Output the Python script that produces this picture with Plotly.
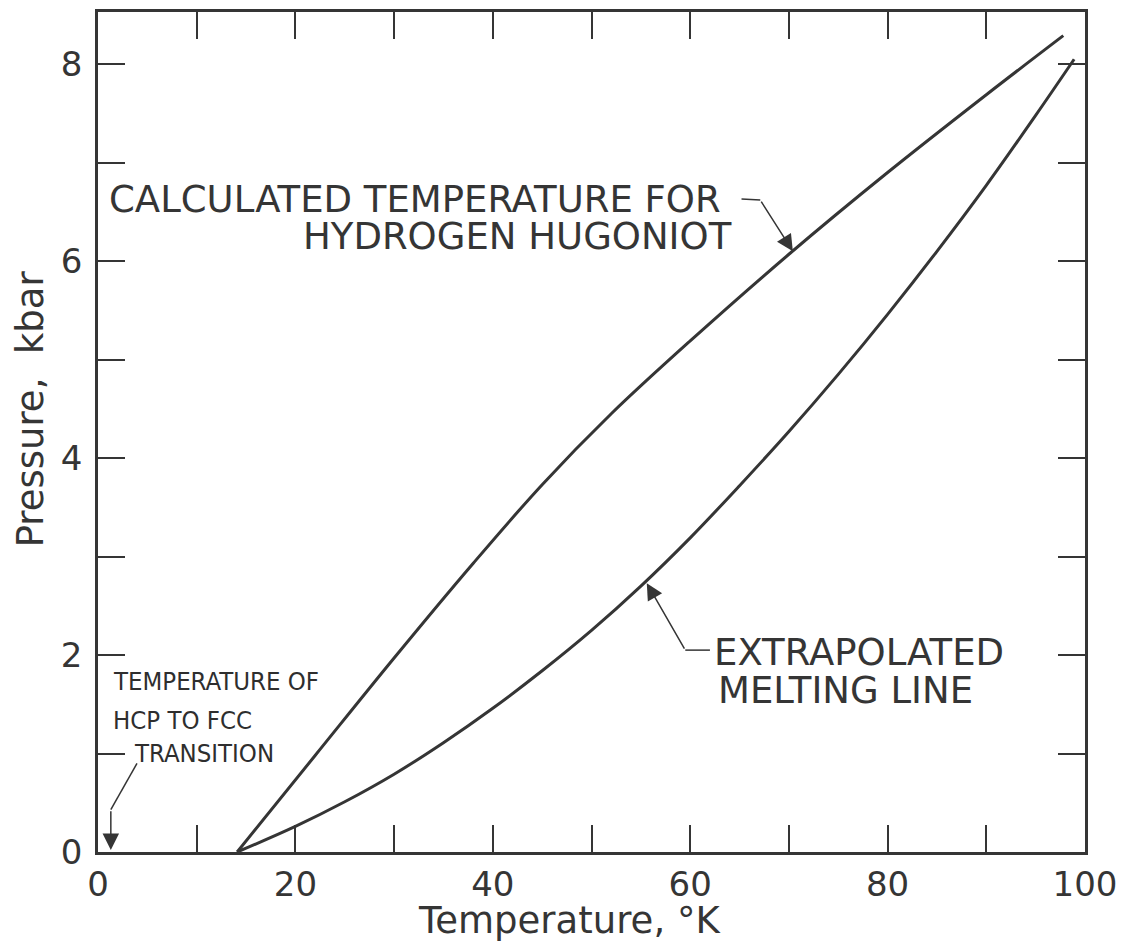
import plotly.graph_objects as go

# ---- data ----
hugoniot_T = [14.1, 22.0, 30.0, 38.0, 45.0, 52.0, 60.0, 70.0, 80.0, 90.0, 97.8]
hugoniot_P = [0.0, 0.98, 1.97, 2.93, 3.73, 4.45, 5.19, 6.07, 6.90, 7.69, 8.29]

melt_T = [14.1, 20.0, 25.0, 30.0, 35.0, 40.0, 45.0, 50.0, 55.0, 60.0, 65.0,
          70.0, 75.0, 80.0, 85.0, 90.0, 95.0, 98.9]
melt_P = [0.0, 0.26, 0.51, 0.79, 1.11, 1.46, 1.84, 2.25, 2.70, 3.19, 3.72,
          4.27, 4.85, 5.46, 6.10, 6.77, 7.48, 8.05]

x_tick_vals = [0, 10, 20, 30, 40, 50, 60, 70, 80, 90, 100]
x_tick_text = ["0", "", "20", "", "40", "", "60", "", "80", "", "100"]
y_tick_vals = [0, 1, 2, 3, 4, 5, 6, 7, 8]
y_tick_text = ["0", "", "2", "", "4", "", "6", "", "8"]

x_title = "Temperature, °K"
y_title = "Pressure,  kbar"

INK = "#353535"
FONT = "DejaVu Sans"
NARROW = "Liberation Sans Narrow, DejaVu Sans Condensed, Roboto Condensed, DejaVu Sans"

fig = go.Figure()
fig.add_trace(go.Scatter(x=hugoniot_T, y=hugoniot_P, mode="lines",
                         line=dict(color=INK, width=3, shape="spline", smoothing=1.0),
                         showlegend=False, hoverinfo="skip"))
fig.add_trace(go.Scatter(x=melt_T, y=melt_P, mode="lines",
                         line=dict(color=INK, width=3, shape="spline", smoothing=1.0),
                         showlegend=False, hoverinfo="skip"))

axis_common = dict(showline=True, linecolor=INK, linewidth=2.5, mirror="ticks",
                   ticks="inside", ticklen=27, tickwidth=2, tickcolor=INK,
                   showgrid=False, zeroline=False,
                   tickfont=dict(family=FONT, size=34, color=INK))

fig.update_xaxes(range=[0, 100], tickmode="array", tickvals=x_tick_vals,
                 ticktext=x_tick_text, ticklabelstandoff=0, **axis_common)
fig.update_yaxes(range=[0, 8.53], tickmode="array", tickvals=y_tick_vals,
                 ticktext=y_tick_text, ticklabelstandoff=6, **axis_common)

ann = []
# axis titles
ann.append(dict(text=x_title, xref="paper", yref="paper", x=0.478, y=-0.081,
                xanchor="center", yanchor="middle", showarrow=False,
                font=dict(family=FONT, size=37, color=INK)))
ann.append(dict(text=y_title, xref="paper", yref="paper", x=-0.068, y=0.528,
                xanchor="center", yanchor="middle", showarrow=False, textangle=-90,
                font=dict(family=FONT, size=37, color=INK)))

big = dict(family=FONT, size=37, color=INK)
narrow = dict(family=NARROW, size=25.5, color="#2e2e2e")

def label(txt, x, y, font):
    ann.append(dict(text=txt, x=x, y=y, xref="x", yref="y", xanchor="left",
                    yanchor="middle", showarrow=False, font=font))

label("CALCULATED TEMPERATURE FOR", 0.9, 6.63, big)
label("HYDROGEN HUGONIOT", 20.6, 6.25, big)
label("EXTRAPOLATED", 62.2, 2.03, big)
label("MELTING LINE", 62.6, 1.64, big)
label("TEMPERATURE OF", 1.3, 1.74, narrow)
label("HCP TO FCC", 1.3, 1.34, narrow)
label("TRANSITION", 3.4, 1.01, narrow)

def arrow(tip_x, tip_y, tail_x, tail_y):
    ann.append(dict(x=tip_x, y=tip_y, ax=tail_x, ay=tail_y, xref="x", yref="y",
                    axref="x", ayref="y", text="", showarrow=True, arrowhead=2,
                    arrowsize=2.2, arrowwidth=1.5, arrowcolor=INK))

arrow(70.4, 6.10, 67.1, 6.62)
arrow(55.6, 2.73, 59.5, 2.05)
arrow(1.3, 0.02, 1.3, 0.43)

shapes = [
    dict(type="line", xref="x", yref="y", x0=65.2, y0=6.63, x1=67.1, y1=6.62,
         line=dict(color=INK, width=1.5)),
    dict(type="line", xref="x", yref="y", x0=59.5, y0=2.05, x1=62.0, y1=2.05,
         line=dict(color=INK, width=1.5)),
    dict(type="line", xref="x", yref="y", x0=1.3, y0=0.43, x1=3.95, y1=0.9,
         line=dict(color=INK, width=1.5)),
]

fig.update_layout(width=1121, height=944, margin=dict(l=90, r=44, t=1, b=100),
                  paper_bgcolor="white", plot_bgcolor="white",
                  annotations=ann, shapes=shapes)

fig.write_html("out.html")
